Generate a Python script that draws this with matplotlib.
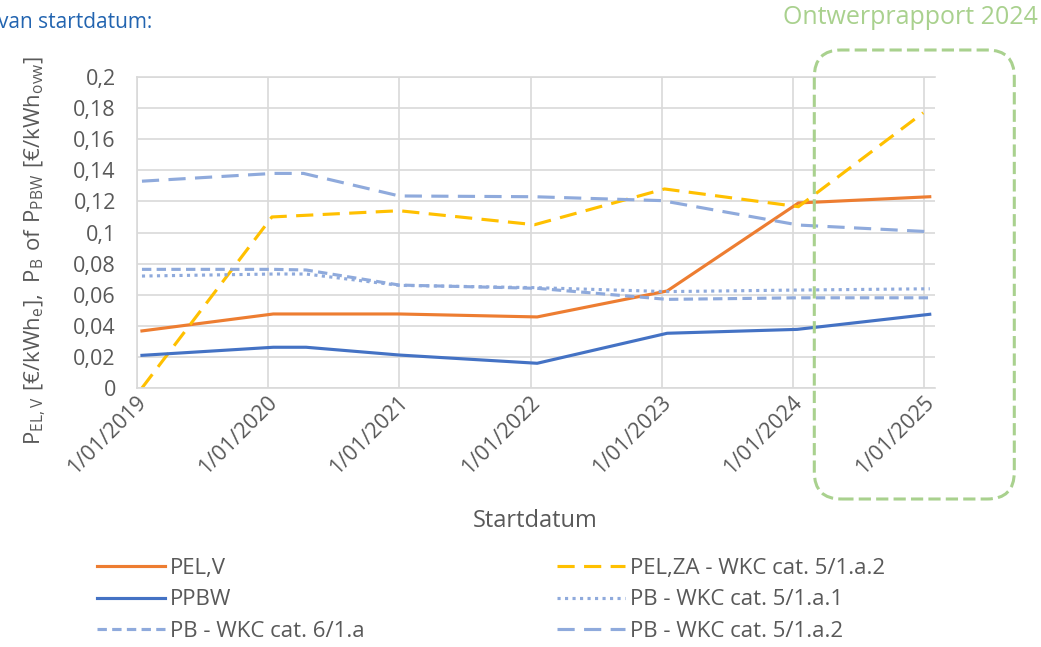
import matplotlib
matplotlib.use("Agg")
import matplotlib.pyplot as plt
from matplotlib.patches import FancyBboxPatch
from matplotlib.transforms import ScaledTranslation

plt.rcParams['font.family'] = ['Open Sans', 'DejaVu Sans']

# x axis: 1 January of each year
years = [2019, 2020, 2021, 2022, 2023, 2024, 2025]
year_labels = ['1/01/2019', '1/01/2020', '1/01/2021', '1/01/2022',
               '1/01/2023', '1/01/2024', '1/01/2025']
y_ticks = [0, 0.02, 0.04, 0.06, 0.08, 0.1, 0.12, 0.14, 0.16, 0.18, 0.2]
y_labels = ['0', '0,02', '0,04', '0,06', '0,08', '0,1', '0,12', '0,14',
            '0,16', '0,18', '0,2']

# series (x in decimal years)
pel_v_x = [2019.04, 2020.04, 2021.0, 2022.05, 2023.04, 2024.04, 2025.04]
pel_v_y = [0.0367, 0.0476, 0.0476, 0.0457, 0.0624, 0.119, 0.123]

pel_za_x = [2019.04, 2020.03, 2021.0, 2022.03, 2023.02, 2024.04, 2024.99]
pel_za_y = [0.0, 0.110, 0.114, 0.105, 0.128, 0.1166, 0.177]

ppbw_x = [2019.04, 2020.04, 2020.29, 2021.0, 2022.05, 2023.04, 2024.03, 2025.04]
ppbw_y = [0.021, 0.0262, 0.0262, 0.0212, 0.0159, 0.0352, 0.0377, 0.0474]

pb_511_x = [2019.04, 2020.04, 2020.29, 2021.0, 2022.05, 2023.04, 2024.04, 2025.04]
pb_511_y = [0.0720, 0.0733, 0.0733, 0.066, 0.0645, 0.062, 0.063, 0.0638]

pb_61_x = [2019.04, 2020.04, 2020.29, 2021.0, 2022.05, 2023.04, 2024.04, 2025.04]
pb_61_y = [0.0763, 0.0763, 0.0759, 0.0662, 0.0641, 0.057, 0.058, 0.058]

pb_512_x = [2019.04, 2020.04, 2020.27, 2021.0, 2022.03, 2023.0, 2024.04, 2025.04]
pb_512_y = [0.133, 0.138, 0.138, 0.1235, 0.123, 0.1205, 0.1048, 0.1005]

grey = '#595959'
grid = '#D9D9D9'

fig = plt.figure(figsize=(10.41, 6.47), dpi=100)
ax = fig.add_axes([136.7 / 1041, 1 - 388 / 647, (935 - 136.7) / 1041, 311 / 647])

lw = 2.25
l_pelv, = ax.plot(pel_v_x, pel_v_y, color='#ED7D31', lw=lw, label='PEL,V')
l_pelza, = ax.plot(pel_za_x, pel_za_y, color='#FFC000', lw=lw, ls=(0, (5.5, 3)),
                   label='PEL,ZA - WKC cat. 5/1.a.2')
l_ppbw, = ax.plot(ppbw_x, ppbw_y, color='#4472C4', lw=lw, label='PPBW')
l_511, = ax.plot(pb_511_x, pb_511_y, color='#8FAADC', lw=lw, ls=(0, (1, 1.4)),
                 label='PB - WKC cat. 5/1.a.1')
l_61, = ax.plot(pb_61_x, pb_61_y, color='#8FAADC', lw=lw, ls=(0, (3, 1.7)),
                label='PB - WKC cat. 6/1.a')
l_512, = ax.plot(pb_512_x, pb_512_y, color='#8FAADC', lw=lw, ls=(0, (5.5, 3)),
                 label='PB - WKC cat. 5/1.a.2')

ax.set_xlim(2019.0, 2025.08)
ax.set_ylim(0, 0.2)
ax.set_yticks(y_ticks, y_labels)
ax.set_xticks(years, year_labels, rotation=45, ha='right', va='center',
              rotation_mode='anchor')
ax.tick_params(axis='both', length=0, labelsize=15.5, labelcolor=grey)
ax.tick_params(axis='y', pad=15)
ax.tick_params(axis='x', pad=8)
for lbl in ax.get_xticklabels():
    lbl.set_transform(lbl.get_transform() + ScaledTranslation(0.06, 0, fig.dpi_scale_trans))

ax.grid(True, color=grid, lw=1.2)
ax.set_axisbelow(True)
for side in ['left', 'bottom', 'top']:
    ax.spines[side].set_color(grid)
    ax.spines[side].set_linewidth(1.2)
ax.spines['right'].set_visible(False)

fig.text(535 / 1041, 1 - 521 / 647, 'Startdatum', ha='center', va='center',
         fontsize=17, color=grey)
fig.text(35 / 1041, 1 - 250 / 647,
         r'$\mathregular{P_{EL,V}\ [€/kWh_{e}],\ P_{B}\ of\ P_{PBW}\ [€/kWh_{ovw}]}$',
         rotation=90, ha='center', va='center', fontsize=16, color=grey)

fig.text(-2 / 1041, 1 - 22 / 647, 'van startdatum:', ha='left', va='center',
         fontsize=15, color='#2264B0')
fig.text(1038 / 1041, 1 - 18 / 647, 'Ontwerprapport 2024', ha='right', va='center',
         fontsize=18, color='#A9D18E')

box = FancyBboxPatch((8.143, (647 - 499) / 100), 2.0, 4.49,
                     boxstyle='round,pad=0,rounding_size=0.27',
                     transform=fig.dpi_scale_trans, fill=False,
                     ec='#A9D18E', lw=2.2, ls=(0, (4, 1.7)), zorder=5)
fig.add_artist(box)

leg_kw = dict(loc='upper left', frameon=False, fontsize=16, labelcolor=grey,
              handlelength=3.06, handletextpad=0.22, borderpad=0, borderaxespad=0,
              labelspacing=0.47)
fig.legend(handles=[l_pelv, l_ppbw, l_61], bbox_to_anchor=(97 / 1041, 1 - 558 / 647), **leg_kw)
fig.legend(handles=[l_pelza, l_511, l_512], bbox_to_anchor=(557 / 1041, 1 - 558 / 647), **leg_kw)

fig.savefig('out.png', dpi=100)
